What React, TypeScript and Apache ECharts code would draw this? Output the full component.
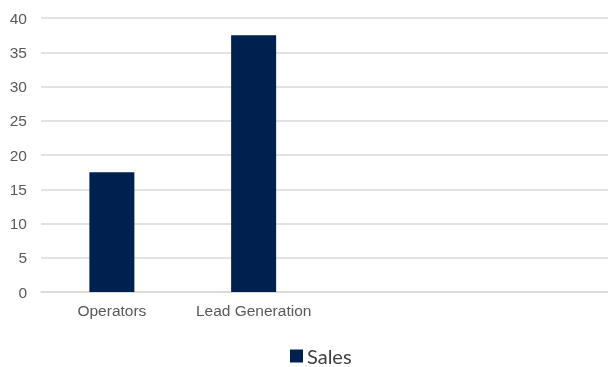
import React, { useEffect, useRef } from "react";
import * as echarts from "echarts";

const categories = ["Operators", "Lead Generation", "", ""];
const salesValues = [17.5, 37.5, null, null];
const seriesName = "Sales";

export default function App() {
  const ref = useRef<HTMLDivElement>(null);
  useEffect(() => {
    const chart = echarts.init(ref.current!, null, { renderer: "svg" });
    chart.setOption({
      animation: false,
      grid: { left: 41, right: 0, top: 18, bottom: 75, containLabel: false },
      legend: {
        top: 346,
        left: 290,
        padding: 0,
        icon: "rect",
        itemWidth: 13,
        itemHeight: 13,
        itemGap: 10,
        textStyle: { fontFamily: "Lato", fontSize: 20, color: "#404040", padding: [0, 0, 0, -1] },
        data: [seriesName],
      },
      xAxis: {
        type: "category",
        data: categories,
        axisLine: { show: true, lineStyle: { color: "#d9d9d9", width: 1.5 } },
        axisTick: { show: false },
        axisLabel: { color: "#595959", fontFamily: "Liberation Sans", fontSize: 15.5, margin: 10, interval: 0 },
      },
      yAxis: {
        type: "value",
        min: 0,
        max: 40,
        interval: 5,
        axisLine: { show: false },
        axisTick: { show: false },
        axisLabel: { color: "#595959", fontFamily: "Liberation Sans", fontSize: 15.5, margin: 14 },
        splitLine: { lineStyle: { color: "#d9d9d9", width: 1.5 } },
      },
      series: [
        {
          name: seriesName,
          type: "bar",
          data: salesValues,
          barWidth: 45,
          itemStyle: { color: "#002050" },
        },
      ],
    });
    return () => chart.dispose();
  }, []);
  return <div ref={ref} style={{ position: "fixed", left: 0, top: 0, width: 608, height: 367 }} />;
}
